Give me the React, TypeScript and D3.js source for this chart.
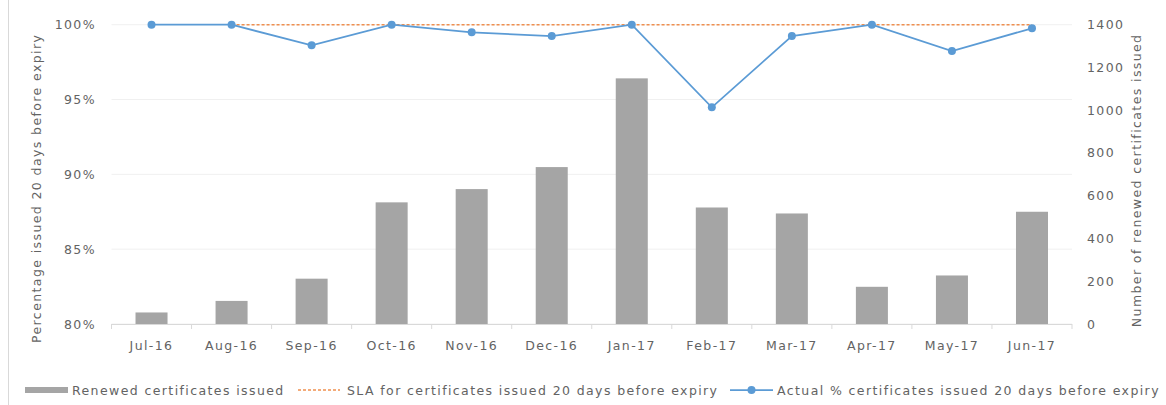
import React from "react";
import * as d3 from "d3";

const months = ["Jul-16", "Aug-16", "Sep-16", "Oct-16", "Nov-16", "Dec-16", "Jan-17", "Feb-17", "Mar-17", "Apr-17", "May-17", "Jun-17"];
const renewedIssued = [54, 108, 212, 569, 631, 734, 1149, 545, 517, 174, 227, 525];
const slaPercent: (number | null)[] = [null, 100, 100, 100, 100, 100, 100, 100, 100, 100, 100, 100];
const actualPercent = [100, 100, 98.62, 100, 99.49, 99.24, 100, 94.48, 99.24, 100, 98.24, 99.76];
const pctTicks = [80, 85, 90, 95, 100];
const countTicks = [0, 200, 400, 600, 800, 1000, 1200, 1400];

const W = 1166;
const H = 405;
const plot = { left: 111.5, right: 1072, top: 24.7, bottom: 324 };
const font = "'DejaVu Sans', Verdana, sans-serif";
const textStyle: React.CSSProperties = { fontFamily: font, fontSize: 12.5, letterSpacing: 1.4 };
const labelColor = "#636363";

export default function App() {
  const x = d3.scaleBand<string>().domain(months).range([plot.left, plot.right]).paddingInner(0.6).paddingOuter(0.3);
  const xc = (m: string) => (x(m) ?? 0) + x.bandwidth() / 2;
  const yPct = d3.scaleLinear().domain([80, 100]).range([plot.bottom, plot.top]);
  const yCnt = d3.scaleLinear().domain([0, 1400]).range([plot.bottom, plot.top]);

  const actualLine = d3.line<number>().x((_, i) => xc(months[i])).y((d) => yPct(d))(actualPercent) ?? "";
  const slaLine =
    d3
      .line<number | null>()
      .defined((d) => d != null)
      .x((_, i) => xc(months[i]))
      .y((d) => yPct(d as number))(slaPercent) ?? "";

  const boundaries = d3.range(months.length + 1).map((i) => plot.left + i * ((plot.right - plot.left) / months.length));
  const legendY = 390;

  return (
    <svg width={W} height={H} style={{ position: "absolute", left: 0, top: 0, background: "#fff" }}>
      <line x1={8.5} x2={8.5} y1={0} y2={H} stroke="#d9d9d9" />

      {/* horizontal gridlines */}
      {pctTicks.map((t) => (
        <line key={t} x1={plot.left} x2={plot.right} y1={yPct(t)} y2={yPct(t)} stroke="#f0f0f0" strokeWidth={1} />
      ))}

      {/* bars */}
      {renewedIssued.map((v, i) => (
        <rect key={months[i]} x={x(months[i])} y={yCnt(v)} width={x.bandwidth()} height={yCnt(0) - yCnt(v)} fill="#a5a5a5" />
      ))}

      {/* category axis */}
      <line x1={plot.left} x2={plot.right} y1={plot.bottom + 0.5} y2={plot.bottom + 0.5} stroke="#d9d9d9" />
      {boundaries.map((b, i) => (
        <line key={i} x1={b} x2={b} y1={plot.bottom} y2={plot.bottom + 5} stroke="#d9d9d9" />
      ))}
      {months.map((m) => (
        <text key={m} x={xc(m)} y={350} textAnchor="middle" fill={labelColor} style={textStyle}>
          {m}
        </text>
      ))}

      {/* left axis labels */}
      {pctTicks.map((t) => (
        <text key={t} x={96} y={yPct(t) + 4.5} textAnchor="end" fill={labelColor} style={textStyle}>
          {t}%
        </text>
      ))}
      <text
        transform={`translate(41, ${(plot.top + plot.bottom) / 2 + 14}) rotate(-90)`}
        textAnchor="middle"
        fill={labelColor}
        style={textStyle}
      >
        Percentage issued 20 days before expiry
      </text>

      {/* right axis labels */}
      {countTicks.map((t) => (
        <text key={t} x={1087} y={yCnt(t) + 4.5} textAnchor="start" fill={labelColor} style={textStyle}>
          {t}
        </text>
      ))}
      <text
        transform={`translate(1141, ${(plot.top + plot.bottom) / 2 + 6}) rotate(-90)`}
        textAnchor="middle"
        fill={labelColor}
        style={textStyle}
      >
        Number of renewed certificates issued
      </text>

      {/* SLA line */}
      <path d={slaLine} fill="none" stroke="#ed7d31" strokeWidth={1.5} strokeDasharray="3 2" opacity={0.85} />

      {/* actual percentage line */}
      <path d={actualLine} fill="none" stroke="#5b9bd5" strokeWidth={1.75} />
      {actualPercent.map((v, i) => (
        <circle key={months[i]} cx={xc(months[i])} cy={yPct(v)} r={4} fill="#5b9bd5" />
      ))}

      {/* legend */}
      <rect x={25} y={legendY - 3} width={43} height={6} fill="#a5a5a5" />
      <text x={72} y={legendY + 4.5} fill={labelColor} style={textStyle}>
        Renewed certificates issued
      </text>
      <line x1={298} x2={340} y1={legendY} y2={legendY} stroke="#ed7d31" strokeWidth={1.5} strokeDasharray="3 2" opacity={0.85} />
      <text x={347} y={legendY + 4.5} fill={labelColor} style={textStyle}>
        SLA for certificates issued 20 days before expiry
      </text>
      <line x1={730} x2={773} y1={legendY} y2={legendY} stroke="#5b9bd5" strokeWidth={1.75} />
      <circle cx={751.5} cy={legendY} r={4} fill="#5b9bd5" />
      <text x={777} y={legendY + 4.5} fill={labelColor} style={textStyle}>
        Actual % certificates issued 20 days before expiry
      </text>
    </svg>
  );
}
